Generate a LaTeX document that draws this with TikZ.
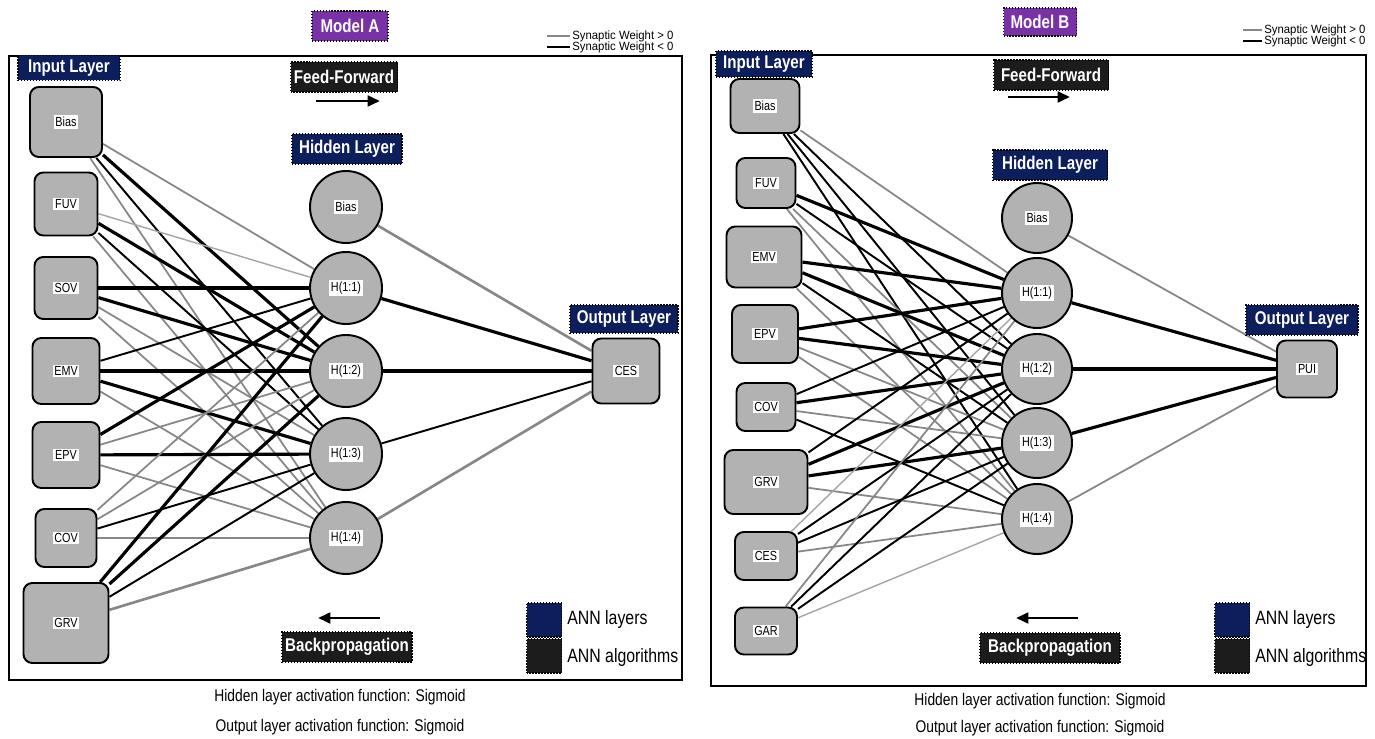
\documentclass[tikz,border=0pt]{standalone}
\usepackage{fontspec}
\setmainfont{Liberation Sans}[FakeStretch=0.82]
\newfontfamily\legfont{Liberation Sans}[FakeStretch=0.95]
\usetikzlibrary{arrows.meta}
\definecolor{navy}{RGB}{12,30,92}
\definecolor{purp}{RGB}{120,50,165}
\definecolor{blk}{RGB}{28,28,28}
\definecolor{boxgray}{RGB}{178,178,178}
\definecolor{posgray}{RGB}{135,135,135}
\definecolor{poslight}{RGB}{165,165,165}
\pgfdeclarelayer{back}
\pgfdeclarelayer{bg}
\pgfsetlayers{back,bg,main}
\tikzset{
  wh/.style 2 args={minimum width=#1*0.02cm, minimum height=#2*0.02cm},
  inbox/.style={draw=black, line width=1.1pt, fill=boxgray, rounded corners=5pt, inner sep=0pt},
  hid/.style={circle, draw=black, line width=1.1pt, fill=boxgray, inner sep=0pt, minimum size=#1*0.02cm},
  nl/.style={fill=white, inner sep=1pt, font=\fontsize{7.5}{8}\selectfont},
  tag/.style={draw=black, densely dotted, line width=0.7pt, text=white, font=\bfseries\fontsize{10.5}{12}\selectfont, inner sep=0pt},
  layertag/.style={tag, fill=navy},
  algtag/.style={tag, fill=blk},
  modeltag/.style={tag, fill=purp},
  wpos/.style={draw=posgray, line width=1pt},
  wposl/.style={draw=poslight, line width=0.8pt},
  wposk/.style={draw=posgray, line width=1.5pt},
  wneg/.style={draw=black, line width=1.1pt},
  wnegt/.style={draw=black, line width=1.8pt},
  flow/.style={line width=1.7pt, -{Triangle[length=7pt,width=6pt]}},
  frm/.style={draw=black, line width=1.1pt},
  capt/.style={font=\fontsize{9.6}{11}\selectfont},
  legtxt/.style={anchor=west, font=\legfont\fontsize{6.8}{7}\selectfont, inner sep=0pt},
  anntxt/.style={anchor=west, font=\fontsize{11}{12}\selectfont, inner sep=0pt},
  sq/.style={draw=black, densely dotted, line width=0.7pt, wh={35}{34}},
}
\begin{document}
\begin{tikzpicture}[x=0.02cm, y=-0.02cm]
\useasboundingbox (0,0) rectangle (1375,739);
\begin{pgfonlayer}{back}
\fill[white] (0,0) rectangle (1375,739);
\end{pgfonlayer}

%%%%%%%%%%%%%%%%%%%% MODEL A %%%%%%%%%%%%%%%%%%%%
\draw[frm] (9,56) rectangle (682,680);
\node[modeltag, wh={76}{30}] (mA) at (350,26) {Model A};
\draw[posgray, line width=1.1pt] (547,36) -- (570,36);
\draw[black, line width=1.3pt] (547,47) -- (570,47);
\node[legtxt] (lgA1) at (572,36) {Synaptic Weight > 0};
\node[legtxt] (lgA2) at (572,47) {Synaptic Weight < 0};

\node[layertag, wh={102}{25}] (inA) at (69,68) {Input Layer};
\node[algtag, wh={107}{30}] (ffA) at (344,77) {Feed-Forward};
\coordinate (ffA1) at (316,101); \coordinate (ffA2) at (380,101);
\draw[flow] (ffA1) -- (ffA2);
\node[layertag, wh={110}{30}] (hlA) at (347,149) {Hidden Layer};
\node[layertag, wh={108}{28}] (olA) at (624,319) {Output Layer};

\node[inbox, wh={72}{70}, label={[nl]center:Bias}] (aBias) at (66,122) {};
\node[inbox, wh={63}{63}, label={[nl]center:FUV}] (aFUV) at (66,204) {};
\node[inbox, wh={63}{62}, label={[nl]center:SOV}] (aSOV) at (66,288) {};
\node[inbox, wh={67}{66}, label={[nl]center:EMV}] (aEMV) at (66,371) {};
\node[inbox, wh={67}{66}, label={[nl]center:EPV}] (aEPV) at (66,455) {};
\node[inbox, wh={61}{58}, label={[nl]center:COV}] (aCOV) at (66,538) {};
\node[inbox, wh={85}{80}, label={[nl]center:GRV}] (aGRV) at (66,623) {};

\node[hid=72, label={[nl]center:Bias}] (aHB) at (346,207) {};
\node[hid=72, label={[nl]center:H(1:1)}] (aH1) at (346,288) {};
\node[hid=72, label={[nl]center:H(1:2)}] (aH2) at (346,371) {};
\node[hid=72, label={[nl]center:H(1:3)}] (aH3) at (346,454) {};
\node[hid=72, label={[nl]center:H(1:4)}] (aH4) at (346,538) {};

\node[inbox, wh={67}{65}, label={[nl]center:CES}] (aOut) at (626,371) {};

\begin{pgfonlayer}{bg}
\foreach \s/\t/\st in {
  aBias/aH1/wpos, aBias/aH2/wnegt, aBias/aH3/wneg, aBias/aH4/wpos,
  aFUV/aH1/wposl, aFUV/aH2/wnegt, aFUV/aH3/wneg, aFUV/aH4/wpos,
  aSOV/aH1/wnegt, aSOV/aH2/wnegt, aSOV/aH3/wpos, aSOV/aH4/wpos,
  aEMV/aH1/wneg, aEMV/aH2/wnegt, aEMV/aH3/wnegt, aEMV/aH4/wpos,
  aEPV/aH1/wnegt, aEPV/aH2/wpos, aEPV/aH3/wnegt, aEPV/aH4/wpos,
  aCOV/aH1/wpos, aCOV/aH2/wpos, aCOV/aH3/wneg, aCOV/aH4/wpos,
  aGRV/aH1/wnegt, aGRV/aH2/wnegt, aGRV/aH3/wneg, aGRV/aH4/wposk,
  aHB/aOut/wposk, aH1/aOut/wnegt, aH2/aOut/wnegt, aH3/aOut/wneg, aH4/aOut/wposk}
  \draw[\st] (\s) -- (\t);
\end{pgfonlayer}

\coordinate (bpA1) at (380,618); \coordinate (bpA2) at (318,618);
\draw[flow] (bpA1) -- (bpA2);
\node[algtag, wh={130}{30}] (bpA) at (347,647) {Backpropagation};

\node[sq, fill=navy] (sqA1) at (544,620) {};
\node[sq, fill=blk] (sqA2) at (544,656) {};
\node[anntxt] (annA1) at (567,620) {ANN layers};
\node[anntxt] (annA2) at (567,657) {ANN algorithms};

\node[capt] (cA1) at (340,697) {Hidden layer activation function: Sigmoid};
\node[capt] (cA2) at (340,727) {Output layer activation function: Sigmoid};

%%%%%%%%%%%%%%%%%%%% MODEL B %%%%%%%%%%%%%%%%%%%%
\draw[frm] (711,55) rectangle (1366,686);
\node[modeltag, wh={73}{28}] (mB) at (1040,22) {Model B};
\draw[posgray, line width=1.1pt] (1243,30) -- (1262,30);
\draw[black, line width=1.3pt] (1243,41) -- (1262,41);
\node[legtxt] (lgB1) at (1264,30) {Synaptic Weight > 0};
\node[legtxt] (lgB2) at (1264,41) {Synaptic Weight < 0};

\node[layertag, wh={96}{26}] (inB) at (764,64) {Input Layer};
\node[algtag, wh={115}{30}] (ffB) at (1051,75) {Feed-Forward};
\coordinate (ffB1) at (1008,97); \coordinate (ffB2) at (1070,97);
\draw[flow] (ffB1) -- (ffB2);
\node[layertag, wh={115}{30}] (hlB) at (1050,165) {Hidden Layer};
\node[layertag, wh={112}{30}] (olB) at (1302,320) {Output Layer};

\node[inbox, wh={69}{54}, label={[nl]center:Bias}] (bBias) at (765,106) {};
\node[inbox, wh={59}{50}, label={[nl]center:FUV}] (bFUV) at (766,183) {};
\node[inbox, wh={75}{61}, label={[nl]center:EMV}] (bEMV) at (764,257) {};
\node[inbox, wh={66}{58}, label={[nl]center:EPV}] (bEPV) at (765,334) {};
\node[inbox, wh={59}{48}, label={[nl]center:COV}] (bCOV) at (766,407) {};
\node[inbox, wh={83}{64}, label={[nl]center:GRV}] (bGRV) at (766,482) {};
\node[inbox, wh={62}{48}, label={[nl]center:CES}] (bCES) at (766,556) {};
\node[inbox, wh={62}{47}, label={[nl]center:GAR}] (bGAR) at (766,631) {};

\node[hid=70, label={[nl]center:Bias}] (bHB) at (1037,218) {};
\node[hid=70, label={[nl]center:H(1:1)}] (bH1) at (1037,293) {};
\node[hid=70, label={[nl]center:H(1:2)}] (bH2) at (1037,369) {};
\node[hid=70, label={[nl]center:H(1:3)}] (bH3) at (1037,443) {};
\node[hid=70, label={[nl]center:H(1:4)}] (bH4) at (1037,519) {};

\node[inbox, wh={60}{57}, label={[nl]center:PUI}] (bOut) at (1307,369) {};

\begin{pgfonlayer}{bg}
\foreach \s/\t/\st in {
  bBias/bH1/wpos, bBias/bH2/wneg, bBias/bH3/wneg, bBias/bH4/wneg,
  bFUV/bH1/wnegt, bFUV/bH2/wneg, bFUV/bH3/wpos, bFUV/bH4/wpos,
  bEMV/bH1/wnegt, bEMV/bH2/wnegt, bEMV/bH3/wneg, bEMV/bH4/wpos,
  bEPV/bH1/wnegt, bEPV/bH2/wnegt, bEPV/bH3/wpos, bEPV/bH4/wpos,
  bCOV/bH1/wneg, bCOV/bH2/wnegt, bCOV/bH3/wpos, bCOV/bH4/wneg,
  bGRV/bH1/wneg, bGRV/bH2/wnegt, bGRV/bH3/wnegt, bGRV/bH4/wpos,
  bCES/bH1/wposl, bCES/bH2/wneg, bCES/bH3/wneg, bCES/bH4/wpos,
  bGAR/bH1/wpos, bGAR/bH2/wneg, bGAR/bH3/wneg, bGAR/bH4/wposl,
  bHB/bOut/wpos, bH1/bOut/wnegt, bH2/bOut/wnegt, bH3/bOut/wnegt, bH4/bOut/wpos}
  \draw[\st] (\s) -- (\t);
\end{pgfonlayer}

\coordinate (bpB1) at (1078,618); \coordinate (bpB2) at (1016,618);
\draw[flow] (bpB1) -- (bpB2);
\node[algtag, wh={140}{30}] (bpB) at (1050,648) {Backpropagation};

\node[sq, fill=navy] (sqB1) at (1232,620) {};
\node[sq, fill=blk] (sqB2) at (1232,656) {};
\node[anntxt] (annB1) at (1255,620) {ANN layers};
\node[anntxt] (annB2) at (1255,657) {ANN algorithms};

\node[capt] (cB1) at (1040,701) {Hidden layer activation function: Sigmoid};
\node[capt] (cB2) at (1040,728) {Output layer activation function: Sigmoid};
\end{tikzpicture}
\end{document}
